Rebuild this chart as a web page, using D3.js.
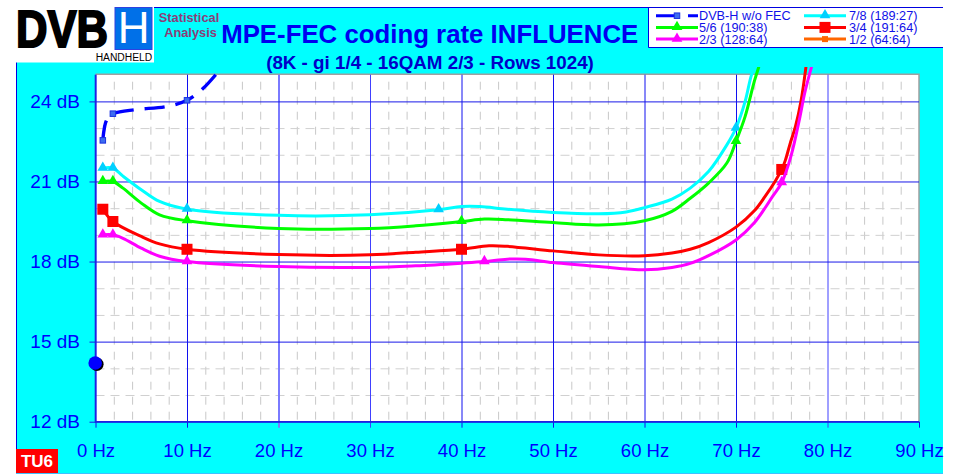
<!DOCTYPE html>
<html><head><meta charset="utf-8">
<script src="https://cdn.jsdelivr.net/npm/d3@7"></script>
<style>html,body{margin:0;padding:0;background:#fff;overflow:hidden}svg{display:block}text{font-family:"Liberation Sans",Arial,sans-serif}</style>
</head><body><svg id="c" width="953" height="474"></svg>
<script>
const title = "MPE-FEC coding rate INFLUENCE";
const subtitle = "(8K - gi 1/4 - 16QAM 2/3 - Rows 1024)";
const xTicks = [0,10,20,30,40,50,60,70,80,90];
const yTicks = [12,15,18,21,24];
const xMinor = [2,4,6,8,12,14,16,18,22,24,26,28,32,34,36,38,42,44,46,48,52,54,56,58,62,64,66,68,72,74,76,78,82,84,86,88];
const yMinor = [13,14,16,17,19,20,22,23];

const dvbHz = [0.8,0.9,1.1,1.4,1.9,4.3,7.8,10,11.8,13.8];
const dvbDb = [22.54,22.85,23.2,23.4,23.54,23.69,23.81,24.04,24.5,25.27];
const dvbMarks = [0.8,1.9,10];

const c78Hz = [0.8,1.9,3,5,7,10,20,30,37.5,40,42,45,50,55,58,60,63,65,67,69,70,71,71.7,72.1];
const c78Db = [21.5,21.5,21.2,20.69,20.25,19.96,19.73,19.75,19.94,20.06,20.06,19.96,19.84,19.79,19.86,20.02,20.34,20.75,21.37,22.37,23,24,25,25.3];
const c78Marks = [0.8,1.9,10,37.5,70];

const c56Hz = [0.8,1.9,3,5,7,10,20,30,35,40,42.5,45,50,55,60,63,65,67,69,70,71,72,72.5];
const c56Db = [21,21,20.75,20.19,19.75,19.53,19.24,19.24,19.34,19.5,19.59,19.57,19.46,19.37,19.53,19.88,20.37,20.94,21.69,22.5,23.44,24.75,25.3];
const c56Marks = [0.8,1.9,10,40,70];

const c34Hz = [0.8,1.9,5,7,10,20,30,35,40,43,45,50,55,60,63,65,67,70,72,73.2,74.3,75,75.4,75.9,76.5,77.1,77.65];
const c34Db = [19.96,19.5,18.94,18.66,18.46,18.26,18.25,18.35,18.46,18.59,18.57,18.4,18.25,18.22,18.32,18.46,18.71,19.29,19.9,20.45,21.02,21.45,21.8,22.4,23.06,24,25.3];
const c34Marks = [0.8,1.9,10,40,75];

const c23Hz = [0.8,1.9,3,5,7,10,20,30,35,40,42.5,45,47,50,55,60,63,65,67,70,72,74,75,76,77,77.5,78.26];
const c23Db = [19,19,18.87,18.5,18.2,18,17.81,17.78,17.84,17.94,18,18.09,18.09,17.96,17.81,17.69,17.78,17.93,18.22,18.81,19.45,20.44,20.96,21.94,23.44,24.3,25.3];
const c23Marks = [0.8,1.9,10,42.5,75];

const blue="#0000ff";
const svg=d3.select("#c");
const L=95.5,R=919,T=74.7,B=421.7;
const x=d3.scaleLinear().domain([0,90]).range([L,R]);
const y=d3.scaleLinear().domain([12,25]).range([B,T]);

// panel
svg.append("rect").attr("x",16).attr("y",7).attr("width",927).attr("height",466).attr("fill","#00ffff");
svg.append("path").attr("d","M16.5,474V7.5H943").attr("fill","none").attr("stroke","#0000e0");
svg.append("path").attr("d","M16,473.5H943").attr("stroke","#40c0ff");
svg.append("rect").attr("x",L).attr("y",T).attr("width",R-L).attr("height",B-T).attr("fill","#fff");
svg.append("path").attr("d",`M${L},${T-.5}H${R}V${B}`).attr("fill","none").attr("stroke","#a0a0a0").attr("stroke-width",1.5);

// minor grid
const gx=svg.append("g").attr("transform",`translate(0,${B})`)
 .call(d3.axisBottom(x).tickValues(xMinor).tickSize(-(B-T)).tickFormat(""));
gx.select(".domain").remove();
gx.selectAll("line").attr("stroke","#c8c8c8").attr("stroke-width",1).attr("stroke-dasharray","8 7").attr("stroke-dashoffset",13);
const gy=svg.append("g").attr("transform",`translate(${L},0)`)
 .call(d3.axisLeft(y).tickValues(yMinor).tickSize(-(R-L)).tickFormat(""));
gy.select(".domain").remove();
gy.selectAll("line").attr("stroke","#d0d0d0").attr("stroke-width",1).attr("stroke-dasharray","9 6");

// major axes and grid
const ax=svg.append("g").attr("transform",`translate(0,${B})`)
 .call(d3.axisBottom(x).tickValues(xTicks).tickFormat(d=>d+" Hz").tickSize(6));
ax.select(".domain").remove();
ax.selectAll("line").each(function(d){
  const l=d3.select(this);
  l.attr("y1",-(B-T)).attr("y2",6).attr("stroke",d===20?"#7a7aff":d===30||d===80?"#4040ff":"#1010f0").attr("stroke-width",d===20?2:1);
  if(d===90) l.attr("y1",0);
});
ax.selectAll("text").attr("y",35.3).attr("dy",0).attr("font-size",18.5).attr("fill",blue)
  .attr("font-family",'"Liberation Sans",Arial,sans-serif');
const ay=svg.append("g").attr("transform",`translate(${L},0)`)
 .call(d3.axisLeft(y).tickValues(yTicks).tickFormat(d=>d+" dB").tickSize(6));
ay.select(".domain").remove();
ay.selectAll("line").attr("x1",-6).attr("x2",R-L).attr("stroke","#1818e8").attr("stroke-width",1);
ay.selectAll("text").attr("x",-15.5).attr("font-size",19).attr("fill",blue)
  .attr("font-family",'"Liberation Sans",Arial,sans-serif');
svg.append("path").attr("d",`M${L},${T}V${B}H${R}`).attr("fill","none").attr("stroke","#2020e0").attr("stroke-width",1.6);

// clip
svg.append("defs").append("clipPath").attr("id","cp").append("rect").attr("x",L).attr("y",67).attr("width",R-L).attr("height",B-67);

const line=d3.line().x(d=>x(d[0])).y(d=>y(d[1])).curve(d3.curveCatmullRom.alpha(.5));
const tri=(g,cx,cy,s,col)=>g.append("path").attr("d",d3.symbol(d3.symbolTriangle,s)()).attr("transform",`translate(${cx},${cy})`).attr("fill",col);
const sq=(g,cx,cy,s,col,st)=>g.append("rect").attr("x",cx-s/2).attr("y",cy-s/2).attr("width",s).attr("height",s).attr("fill",col).attr("stroke",st||"none");

const series=[
 {n:"2/3",hz:c23Hz,db:c23Db,m:c23Marks,c:"#ff00ff",k:"t"},
 {n:"3/4",hz:c34Hz,db:c34Db,m:c34Marks,c:"#ff0000",k:"s"},
 {n:"5/6",hz:c56Hz,db:c56Db,m:c56Marks,c:"#00ff00",k:"t"},
 {n:"7/8",hz:c78Hz,db:c78Db,m:c78Marks,c:"#00ffff",k:"t"},
];
const plot=svg.append("g");
const nearest=(s,h)=>s.db[s.hz.indexOf(h)];
series.slice().reverse().forEach(s=>{
  plot.append("path").datum(s.hz.map((h,i)=>[h,s.db[i]])).attr("d",line).attr("clip-path","url(#cp)")
    .attr("fill","none").attr("stroke",s.c).attr("stroke-width",3).attr("stroke-linejoin","round");
  s.m.forEach(h=>{
    const cx=x(h),cy=y(nearest(s,h));
    if(s.k==="s") sq(plot,cx,cy,11,s.c); else tri(plot,cx,cy-.5,50,s.c==="#00ffff"?"#00d0ff":s.c);
  });
});
// DVB-H w/o FEC
plot.append("path").datum(dvbHz.map((h,i)=>[h,dvbDb[i]])).attr("d",line).attr("clip-path","url(#cp)")
  .attr("fill","none").attr("stroke","#0000ff").attr("stroke-width",3.4).attr("stroke-dasharray","20 11");
dvbMarks.forEach(h=>sq(plot,x(h),y(dvbDb[dvbHz.indexOf(h)]),5.5,"#3c6cf0","#1830e0"));
// threshold point
const thHz=[0], thDb=[14.2];
thHz.forEach((h,i)=>{
  svg.append("circle").attr("cx",x(h)+1.3).attr("cy",y(thDb[i])+1.3).attr("r",6.8).attr("fill","#000");
  svg.append("circle").attr("cx",x(h)-.3).attr("cy",y(thDb[i])).attr("r",6.8).attr("fill","#0000ff");
});

// titles
svg.append("text").attr("x",429.7).attr("y",43).attr("text-anchor","middle").attr("font-size",25.8).attr("font-weight","bold").attr("fill","#0000f0").text(title);
svg.append("text").attr("x",430).attr("y",69).attr("text-anchor","middle").attr("font-size",18.8).attr("font-weight","bold").attr("fill","#0000c8").text(subtitle);
svg.append("text").attr("x",189).attr("y",22).attr("text-anchor","middle").attr("font-size",12.8).attr("font-weight","bold").attr("fill","#8c3c78").text("Statistical");
svg.append("text").attr("x",190.5).attr("y",37).attr("text-anchor","middle").attr("font-size",12.8).attr("font-weight","bold").attr("fill","#8c3c78").text("Analysis");

// logo
svg.append("rect").attr("x",0).attr("y",0).attr("width",154).attr("height",62.5).attr("fill","#fff");
svg.append("text").attr("x",16).attr("y",47).attr("font-size",51).attr("font-weight","bold").attr("fill","#000").attr("stroke","#000").attr("stroke-width",2).attr("textLength",92).attr("lengthAdjust","spacingAndGlyphs").text("DVB");
svg.append("rect").attr("x",115).attr("y",7.5).attr("width",37).attr("height",42).attr("fill","#0070e8").attr("stroke","#3040e0");
svg.append("text").attr("x",133.7).attr("y",43.3).attr("text-anchor","middle").attr("font-size",44).attr("fill","#fff").text("H");
svg.append("text").attr("x",95.7).attr("y",60.5).attr("font-size",10).attr("fill","#000").attr("textLength",56.5).attr("lengthAdjust","spacingAndGlyphs").text("HANDHELD");

// legend
svg.append("rect").attr("x",649).attr("y",7).attr("width",304).attr("height",40).attr("fill","#fff");
svg.append("path").attr("d","M648.5,7V47.5H943M648.5,7.5H943").attr("fill","none").attr("stroke","#0000e0");
const legendNames=["DVB-H w/o FEC","7/8 (189:27)","5/6 (190:38)","3/4 (191:64)","2/3 (128:64)","1/2 (64:64)"];
const legendColors=["#0000ff","#00ffff","#00ff00","#ff0000","#ff00ff","#ff6600"];
const legendKinds=["d","t","t","S","t","s"];
legendNames.forEach((n,i)=>{
  const col=i%2, row=(i-col)/2, x0=col?804:656, yy=15.7+row*11.7, cx=x0+21, c=legendColors[i];
  const l=svg.append("line").attr("x1",x0).attr("x2",x0+42).attr("y1",yy).attr("y2",yy).attr("stroke",c).attr("stroke-width",3);
  if(i===0) l.attr("stroke-dasharray","22 10");
  const k=legendKinds[i];
  if(k==="d") sq(svg,cx,yy,5.5,"#3c6cf0","#1830e0");
  if(k==="t") tri(svg,cx,yy-.5,50,c==="#00ffff"?"#00d0ff":c);
  if(k==="S") sq(svg,cx,yy,11,c);
  if(k==="s") sq(svg,cx,yy,6,c);
  svg.append("text").attr("x",col?849:699).attr("y",yy+4.5).attr("font-size",12.7).attr("fill","#1010e8").text(n);
});

// TU6
svg.append("rect").attr("x",16).attr("y",449).attr("width",42).attr("height",24).attr("fill","#ff0000");
svg.append("text").attr("x",37).attr("y",467).attr("text-anchor","middle").attr("font-size",17).attr("font-weight","bold").attr("fill","#fff").text("TU6");
</script></body></html>
